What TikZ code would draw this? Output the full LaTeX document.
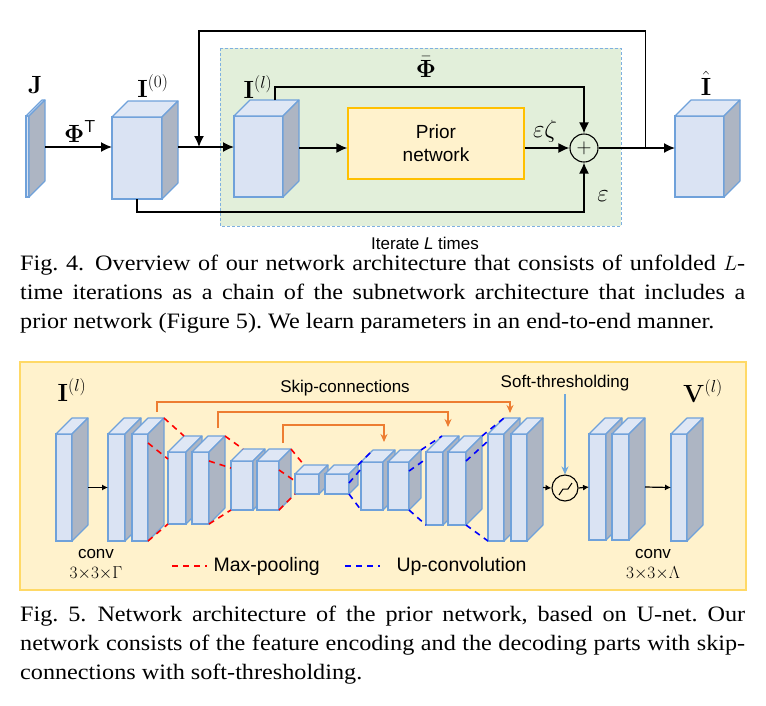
\documentclass[tikz,border=0pt]{standalone}
\usepackage[no-math]{fontspec}
\setmainfont{Liberation Serif}[FakeStretch=1.1]
\setsansfont{Liberation Sans}
\usetikzlibrary{arrows.meta,positioning}
\frenchspacing

\definecolor{cubefront}{HTML}{DAE3F3}
\definecolor{cubetop}{HTML}{DFE7F5}
\definecolor{cubeside}{HTML}{ADB5C3}
\definecolor{cubeline}{HTML}{6FA1DA}
\definecolor{loopgreen}{HTML}{E2EFDA}
\definecolor{loopline}{HTML}{7EB0E0}
\definecolor{priorfill}{HTML}{FFF2CC}
\definecolor{priorline}{HTML}{FFC000}
\definecolor{panelfill}{HTML}{FFF2CC}
\definecolor{panelline}{HTML}{FFD966}
\definecolor{skiporange}{HTML}{ED7D31}
\definecolor{softblue}{HTML}{6FA8DC}

\tikzset{
  cube/.style={draw=cubeline, fill=cubefront, line width=1.1pt, inner sep=0pt, outer sep=0pt},
  cubetopface/.style={draw=cubeline, fill=cubetop, line width=1.1pt, line join=round},
  cubesideface/.style={draw=cubeline, fill=cubeside, line width=1.1pt, line join=round},
  flow/.style={line width=1.6pt, -{Latex[length=11pt,width=10pt]}},
  smallflow/.style={line width=1.2pt, -{Latex[length=6pt,width=6pt]}},
  skip/.style={draw=skiporange, line width=1.3pt, -{Stealth[length=8pt,width=7pt]}},
  softarrow/.style={draw=softblue, line width=1.1pt, -{Stealth[length=8pt,width=7pt]}},
  pooldash/.style={draw=red, line width=1.6pt, dash pattern=on 6pt off 5pt},
  updash/.style={draw=blue, line width=1.6pt, dash pattern=on 6pt off 5pt},
  mathlbl/.style={font=\fontsize{24}{28}\selectfont, inner sep=0pt},
  smallmath/.style={font=\fontsize{17}{20}\selectfont, inner sep=0pt},
  sflbl/.style={font=\sffamily\fontsize{17}{20}\selectfont},
  legendlbl/.style={font=\sffamily\fontsize{19.5}{22}\selectfont},
  caption/.style={anchor=north west, inner sep=0pt, text width=725pt, align=justify,
    font=\fontsize{22}{29}\selectfont},
}

% name, x, y (top left of front face), width, height, depth
\newcommand{\cuboid}[6]{%
  \node[cube, minimum width=#4pt, minimum height=#5pt, anchor=north west] (#1) at (#2,#3) {};
  \filldraw[cubetopface] (#1.north west) -- ++(#6,-#6) -- ++(#4,0) -- (#1.north east) -- cycle;
  \filldraw[cubesideface] (#1.north east) -- ++(#6,-#6) -- ++(0,#5) -- (#1.south east) -- cycle;
  \coordinate (#1-bl) at ([shift={(#6,-#6)}]#1.north west);
  \coordinate (#1-br) at ([shift={(#6,-#6)}]#1.north east);
  \coordinate (#1-side) at ([xshift=#6pt]#1.east);
}

% style, from block, to block
\newcommand{\blocklink}[3]{%
  \draw[#1] (#2-br) -- (#3-bl);
  \draw[#1] ([yshift=-9pt]#2.north east) -- ([yshift=-7pt]#3.north west);
  \draw[#1] (#2.south east) -- (#3.south west);
}

\begin{document}
\begin{tikzpicture}[x=1pt, y=-1pt]
  \useasboundingbox (0,0) rectangle (766,705);

  % Fig. 4
  \filldraw[fill=loopgreen, draw=loopline, line width=1pt, dash pattern=on 3pt off 2pt]
    (220,48) rectangle (621,226);
  \node[sflbl] (iter) at (425,243) {Iterate \textit{L} times};

  \cuboid{J}{26}{116}{3}{81}{16}
  \cuboid{I0}{112}{117}{50}{82}{16}
  \cuboid{Il}{234}{116}{49}{81}{16}
  \cuboid{Ihat}{675}{116}{49}{81}{16}

  \node[draw=priorline, fill=priorfill, line width=1.2pt, minimum width=176pt, minimum height=71pt,
    align=center, font=\sffamily\fontsize{19}{23}\selectfont] (prior) at (436,143.5) {Prior\\network};
  \node[circle, draw, line width=1.1pt, minimum size=28pt, inner sep=0pt,
    font=\fontsize{20}{20}\selectfont] (sum) at (584,148) {$+$};

  \coordinate (row) at (0,147);
  \coordinate (fbin) at (199,147);
  \coordinate (fb) at ([xshift=47pt]sum.east);

  \draw[flow] (J-side |- row) -- (I0.west |- row);
  \draw[flow] (I0-side |- row) -- (Il.west |- row);
  \draw[flow] (Il-side |- sum) -- (prior.west |- sum);
  \draw[flow] (prior.east |- sum) -- (sum.west);
  \draw[flow] (sum.east) -- (Ihat.west |- sum);
  \draw[flow] ([xshift=-24pt]Il-br) -- ++(0,-13) -| (sum.north);
  \draw[flow] (I0.south) -- ++(0,13) -| (sum.south);
  \draw[flow] (fb) -- ++(0,-117) -| (fbin);

  \node[mathlbl, anchor=base] (Jlbl) at (35,93) {$\mathbf{J}$};
  \node[mathlbl, anchor=base] (I0lbl) at (153,97) {$\mathbf{I}^{(0)}$};
  \node[mathlbl, anchor=base] (Illbl) at (258,98) {$\mathbf{I}^{(l)}$};
  \node[mathlbl, anchor=base] (Ihatlbl) at (706,95) {$\hat{\mathbf{I}}$};
  \node[mathlbl, anchor=base] (phit) at (80,142) {$\mathbf{\Phi}^{\mathsf{T}}$};
  \node[mathlbl, anchor=base] (phibar) at (426,77) {$\bar{\mathbf{\Phi}}$};
  \node[mathlbl, anchor=base] (epszeta) at (545,137) {$\varepsilon\zeta$};
  \node[mathlbl, anchor=base] (eps) at (603,201) {$\varepsilon$};

  \node[caption] (cap4) at (20,255) {\parfillskip=0pt
    Fig.~4.\enskip Overview of our network architecture that consists of unfolded $L$-\linebreak
    time iterations as a chain of the subnetwork architecture that includes a\linebreak
    prior network (Figure 5). We learn parameters in an end-to-end manner.};

  % Fig. 5
  \filldraw[fill=panelfill, draw=panelline, line width=1.2pt] (20,362) rectangle (746,590);

  \cuboid{b1}{56}{434}{16}{107}{16}
  \cuboid{b2a}{108}{434}{17}{107}{16}
  \cuboid{b2b}{132}{434}{16}{107}{16}
  \cuboid{b3a}{168}{452}{18}{72}{16}
  \cuboid{b3b}{192}{452}{17}{72}{16}
  \cuboid{b4a}{231}{461}{22}{49}{12}
  \cuboid{b4b}{257}{461}{22}{49}{12}
  \cuboid{b5a}{295}{474}{24}{20}{9}
  \cuboid{b5b}{325}{474}{24}{20}{9}
  \cuboid{b6a}{361}{462}{22}{48}{12}
  \cuboid{b6b}{388}{462}{21}{48}{12}
  \cuboid{b7a}{426}{452}{17}{73}{16}
  \cuboid{b7b}{448}{452}{18}{73}{16}
  \cuboid{b8a}{488}{434}{16}{107}{16}
  \cuboid{b8b}{511}{434}{16}{107}{16}
  \cuboid{b9a}{589}{434}{17}{106}{16}
  \cuboid{b9b}{612}{434}{17}{106}{16}
  \cuboid{b10}{671}{434}{16}{107}{16}

  \blocklink{pooldash}{b2b}{b3a}
  \blocklink{pooldash}{b3b}{b4a}
  \blocklink{pooldash}{b4b}{b5a}
  \blocklink{updash}{b5b}{b6a}
  \blocklink{updash}{b6b}{b7a}
  \blocklink{updash}{b7b}{b8a}

  \draw[skip] ([shift={(17,-22)}]b2b.north) -- ++(0,-10) -| ([shift={(14,-21)}]b8a.north);
  \draw[skip] ([shift={(17.5,-24)}]b3b.north) -- ++(0,-16) -| ([shift={(13.5,-25)}]b7a.north);
  \draw[skip] ([shift={(15,-18)}]b4b.north) -- ++(0,-18) -| ([shift={(12,-20)}]b6a.north);
  \node[sflbl] (skiplbl) at (345,388) {Skip-connections};

  \node[circle, draw, line width=1.1pt, minimum size=26pt, inner sep=0pt] (soft) at (565,488) {};
  \draw[line width=1pt] ([shift={(-6,7)}]soft.center) -- ++(4,-6) -- ++(5,0) -- ++(4,-6);
  \node[sflbl] (softlbl) at (565,383) {Soft-thresholding};
  \draw[softarrow] (softlbl.south) -- (soft.north);

  \draw[smallflow] (b1-side) -- (b2a.west);
  \draw[smallflow] (b8b-side) -- (soft.west);
  \draw[smallflow] (soft.east) -- (b9a.west);
  \draw[smallflow] (b9b-side) -- (b10.west);

  \node[mathlbl, anchor=base] (inlbl) at (72,401) {$\mathbf{I}^{(l)}$};
  \node[mathlbl, anchor=base] (outlbl) at (703,402) {$\mathbf{V}^{(l)}$};
  \node[sflbl] (conv1) at (96,554) {conv};
  \node[smallmath] (kern1) at (96,573) {$3{\times}3{\times}\Gamma$};
  \node[sflbl] (conv2) at (653,554) {conv};
  \node[smallmath] (kern2) at (653,573) {$3{\times}3{\times}\Lambda$};

  \node[legendlbl, anchor=west] (maxpool) at (210,566) {Max-pooling};
  \draw[pooldash] ([xshift=-38pt]maxpool.west) -- ([xshift=-3pt]maxpool.west);
  \node[legendlbl, anchor=west] (upconv) at (393,566) {Up-convolution};
  \draw[updash] ([xshift=-48pt]upconv.west) -- ([xshift=-13pt]upconv.west);

  \node[caption] (cap5) at (20,606) {
    Fig.~5.\enskip Network architecture of the prior network, based on U-net. Our\linebreak
    network consists of the feature encoding and the decoding parts with skip-\linebreak
    connections with soft-thresholding.};
\end{tikzpicture}
\end{document}
